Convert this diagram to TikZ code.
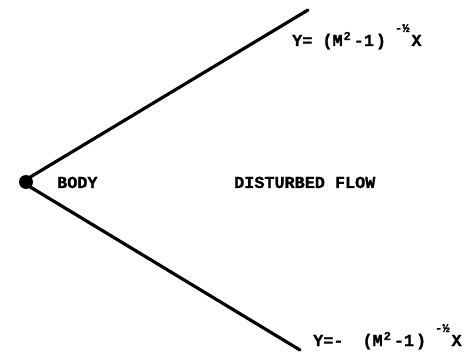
\documentclass[tikz,border=0pt]{standalone}
\usepackage{fontspec}
\newfontfamily\twfont{Liberation Mono}[FakeBold=1.2]
\newcommand{\supsz}{\fontsize{12}{13}\selectfont}
\begin{document}
\begin{tikzpicture}[x=1pt,y=-1pt,
  lbl/.style={font=\fontsize{16.8}{18}\selectfont\twfont\bfseries,inner sep=0pt,anchor=base west},
  shock/.style={line width=3.2pt,line cap=round}]
\useasboundingbox (0,0) rectangle (475,361);
\node[circle,fill=black,minimum size=14pt,inner sep=0pt] (body) at (26,182) {};
\coordinate (tip) at (22,182);
\coordinate (upend) at (308,10);
\coordinate (loend) at (300,350);
\draw[shock] (tip) -- (upend);
\draw[shock] (tip) -- (loend);
\node[lbl] (bodylbl) at (57,188) {BODY};
\node[lbl] (flow) at (234,188) {DISTURBED FLOW};
\node[lbl] (upper) at (292,46) {Y=\ (M\hspace{1pt}\raisebox{6pt}{\supsz 2}\hspace{3pt}-1\hspace{2pt})\hspace{9pt}\raisebox{14pt}{\supsz -½}\hspace{2pt}X};
\node[lbl] (lower) at (313,346) {Y=-\hspace{9pt}\ (M\hspace{1pt}\raisebox{6pt}{\supsz 2}\hspace{3pt}-1\hspace{2pt})\hspace{9pt}\raisebox{14pt}{\supsz -½}\hspace{2pt}X};
\end{tikzpicture}
\end{document}
